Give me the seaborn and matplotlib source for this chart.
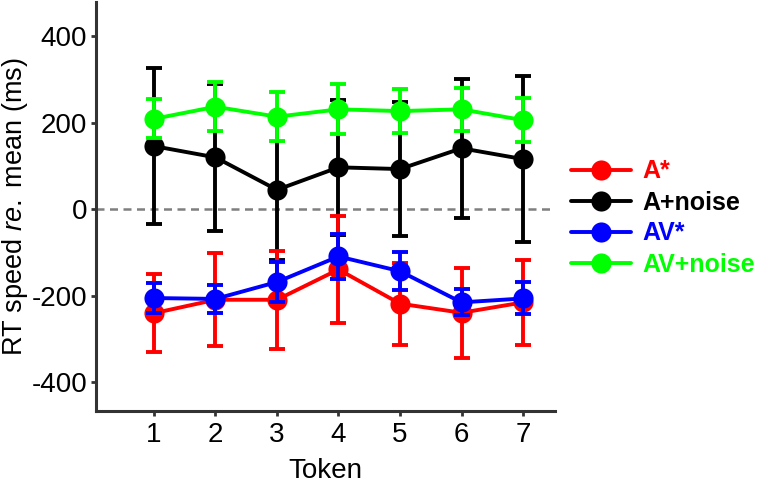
import matplotlib
matplotlib.use("Agg")
import matplotlib.pyplot as plt
import seaborn as sns
import numpy as np
import pandas as pd
from matplotlib.lines import Line2D

tokens = [1, 2, 3, 4, 5, 6, 7]
conditions = ["A*", "A+noise", "AV*", "AV+noise"]
colors = {"A*": "#FF0000", "A+noise": "#000000", "AV*": "#0000FF", "AV+noise": "#00FF00"}

a_star_mean = [-240, -209, -209, -139, -218, -239, -215]
a_star_err = [90, 107, 113, 123, 95, 104, 98]
a_noise_mean = [146, 120, 45, 97, 93, 141, 116]
a_noise_err = [180, 170, 161, 156, 154, 161, 191]
av_star_mean = [-205, -207, -168, -109, -143, -215, -206]
av_star_err = [35, 32, 47, 52, 44, 30, 37]
av_noise_mean = [209, 237, 214, 231, 227, 231, 206]
av_noise_err = [45, 57, 56, 58, 50, 50, 51]

means = {"A*": a_star_mean, "A+noise": a_noise_mean, "AV*": av_star_mean, "AV+noise": av_noise_mean}
errs = {"A*": a_star_err, "A+noise": a_noise_err, "AV*": av_star_err, "AV+noise": av_noise_err}

rows = []
for c in conditions:
    for t, m, e in zip(tokens, means[c], errs[c]):
        rows.append({"Token": t, "RT": m, "err": e, "Condition": c})
df = pd.DataFrame(rows)

sns.set_theme(style="ticks")
plt.rcParams["font.family"] = ["Liberation Sans", "DejaVu Sans"]
plt.rcParams["axes.unicode_minus"] = False
plt.rcParams["mathtext.fontset"] = "custom"
plt.rcParams["mathtext.it"] = "Liberation Sans:italic"
plt.rcParams["mathtext.rm"] = "Liberation Sans"
plt.rcParams["text.color"] = "black"
plt.rcParams["axes.labelcolor"] = "black"

fig = plt.figure(figsize=(7.6, 4.83), dpi=100)
ax = fig.add_axes([95.5 / 760, 72 / 483, (555 - 95.5) / 760, (411 - 2) / 483])

ax.axhline(0, color="#7f7f7f", lw=1.8, ls=(0, (3.2, 2.2)), zorder=1)

draw_order = ["A+noise", "A*", "AV*", "AV+noise"]
for i, c in enumerate(draw_order):
    sub = df[df["Condition"] == c]
    ax.errorbar(sub["Token"], sub["RT"], yerr=sub["err"], fmt="none",
                ecolor=colors[c], elinewidth=2.8, capsize=5.8, capthick=2.8,
                zorder=2 + 2 * i)
    sns.lineplot(data=sub, x="Token", y="RT", color=colors[c], marker="o",
                 markersize=14.5, markeredgewidth=0, linewidth=2.8, ax=ax,
                 zorder=3 + 2 * i, legend=False)

ax.set_xlim(0.05, 7.52)
ax.set_ylim(-466, 479)
ax.set_xticks(tokens)
ax.set_xticklabels([str(t) for t in tokens])
ax.set_yticks([-400, -200, 0, 200, 400])
ax.set_yticklabels(["-400", "-200", "0", "200", "400"])
ax.tick_params(axis="both", labelsize=20, length=3.5, width=2, color="#333333",
               labelcolor="black")
ax.tick_params(axis="x", pad=4.5)
ax.tick_params(axis="y", pad=2.5)
for s in ["top", "right"]:
    ax.spines[s].set_visible(False)
for s in ["left", "bottom"]:
    ax.spines[s].set_linewidth(2.2)
    ax.spines[s].set_color("#333333")

ax.set_xlabel("Token", fontsize=20, labelpad=7, color="black")
ax.set_ylabel(r"RT speed $\mathit{re.}$ mean (ms)", fontsize=19.5, color="black")
ax.yaxis.set_label_coords(-0.143, 0.5)

handles = [Line2D([0], [0], color=colors[c], lw=2.8, marker="o", markersize=14.5,
                  markeredgewidth=0) for c in conditions]
leg = fig.legend(handles, conditions, loc="center left",
                 bbox_to_anchor=(571 / 760, 1 - 218 / 483), frameon=False,
                 fontsize=18, handlelength=2.4, handletextpad=0.45,
                 labelspacing=0.28, borderpad=0, borderaxespad=0)
for txt, c in zip(leg.get_texts(), conditions):
    txt.set_color(colors[c])
    txt.set_fontweight("bold")

fig.savefig("out.png", dpi=100)
